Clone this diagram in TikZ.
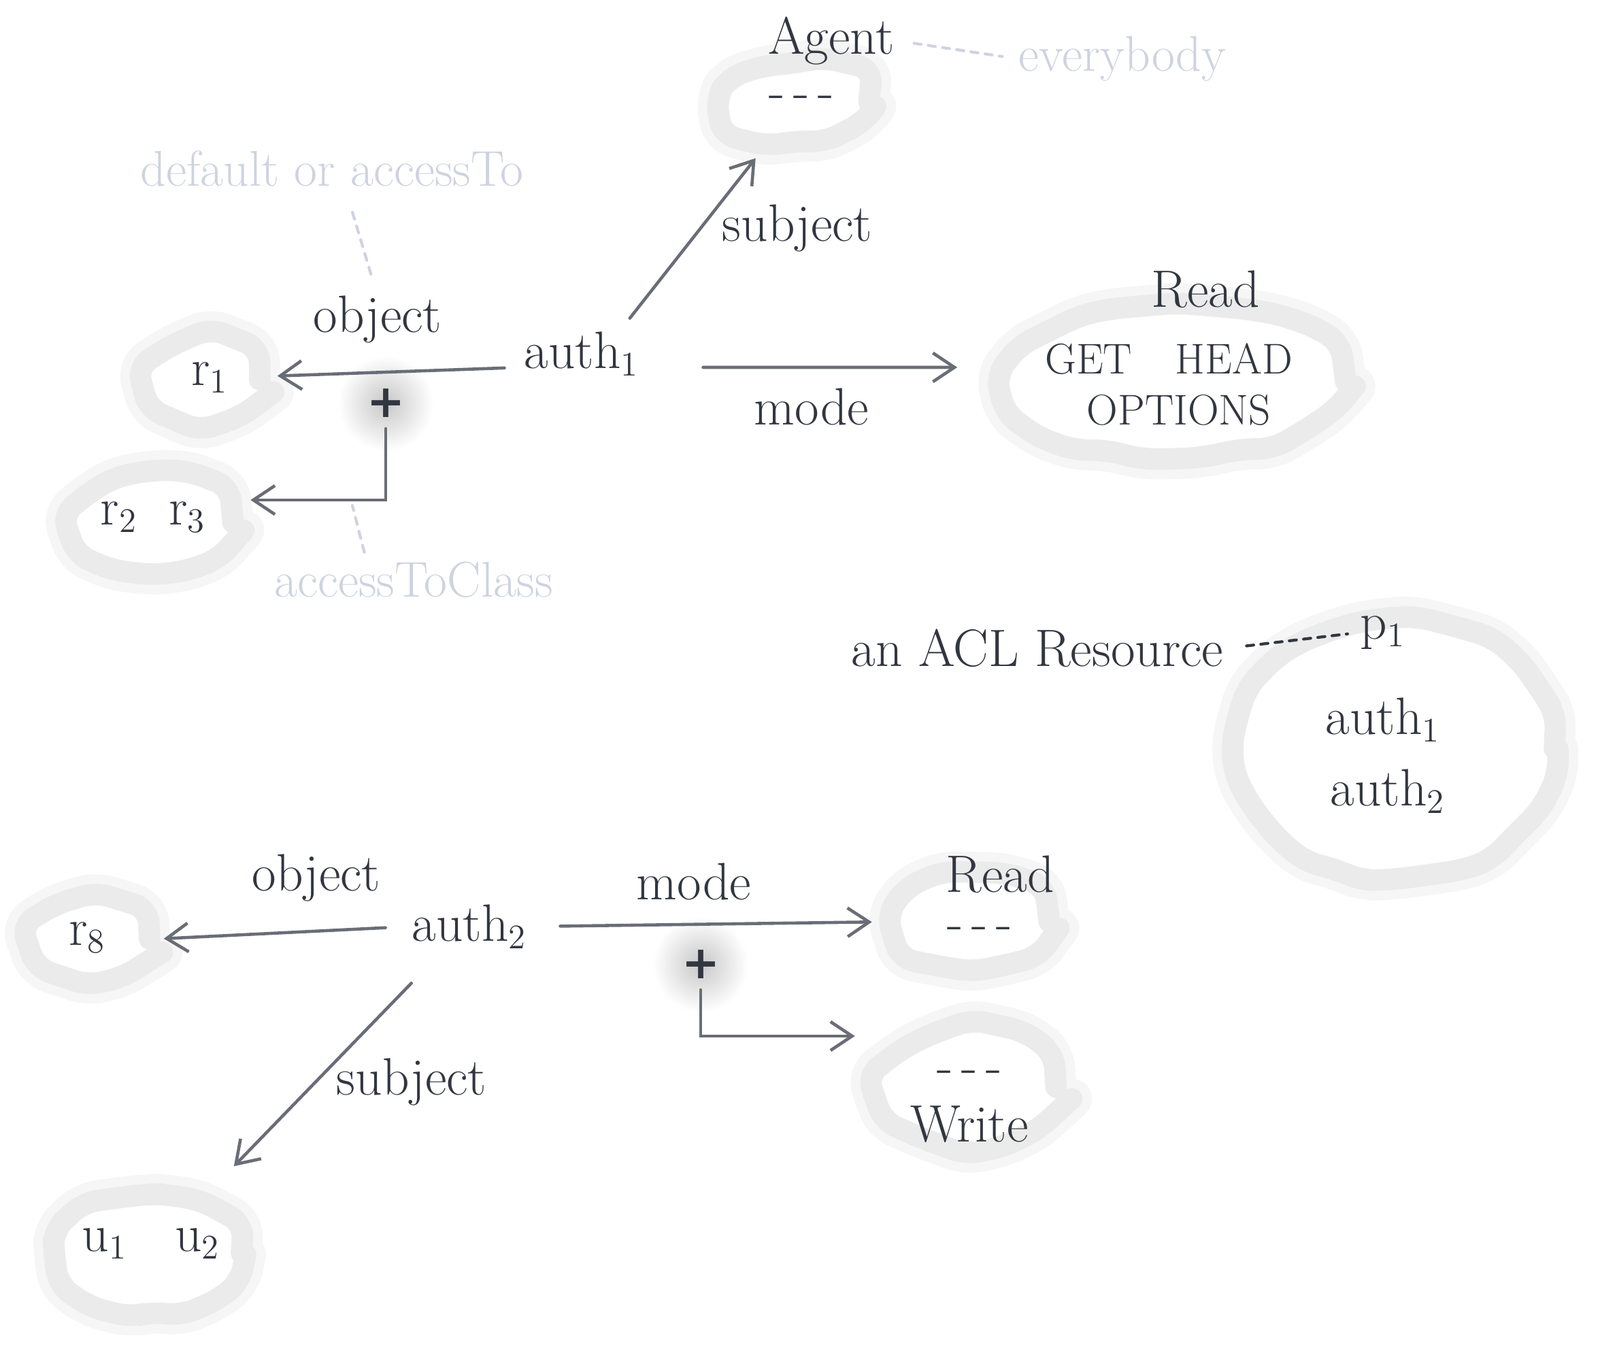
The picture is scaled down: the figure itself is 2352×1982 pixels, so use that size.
\documentclass[tikz,border=0pt]{standalone}
\usepackage{fontspec}
\newfontfamily\plusfont{DejaVu Sans}
\usetikzlibrary{arrows.meta,decorations.pathmorphing,shapes.geometric}
\definecolor{pencil}{RGB}{50,54,64}
\definecolor{lead}{RGB}{105,109,118}
\definecolor{faint}{RGB}{206,211,224}
\begin{document}
\begin{tikzpicture}[x=0.01cm, y=-0.01cm, line cap=round]
			\tikzstyle{blob}  = [ellipse, inner sep=0pt, draw=black!8, line width=9pt, fill=white, rounded corners=6pt,
			                     decorate, decoration={random steps, segment length=14pt, amplitude=2pt},
			                     preaction={draw=black!3.5, line width=17pt}]
			\tikzstyle{word}  = [inner sep=1pt, text=pencil, font=\fontsize{22}{26}\selectfont]
			\tikzstyle{small} = [inner sep=1pt, text=pencil, font=\fontsize{18}{22}\selectfont]
			\tikzstyle{note}  = [inner sep=1pt, text=faint, font=\fontsize{21}{25}\selectfont]
			\tikzstyle{arr}   = [draw=lead, line width=1.3pt, -{Straight Barb[length=9pt, width=12pt]}]
			\tikzstyle{hint}  = [draw=faint, line width=1.2pt, dashed]
			\tikzstyle{plus}  = [circle, minimum size=1.4cm, inner sep=0pt, inner color=black!22, outer color=white,
			                     text=pencil, font=\fontsize{19}{22}\plusfont\bfseries]

			\useasboundingbox (0,0) rectangle (2352,1982);

			% the clouds
			\foreach \name/\x/\y/\w/\h in {agentblob/1170/150/215/110, readblob/1728/560/500/225,
			        r1blob/302/558/160/115, r23blob/225/768/235/140, pblob/2050/1100/470/380,
			        r8blob/135/1380/170/105, read2blob/1430/1355/225/135, writeblob/1425/1598/255/170,
			        ublob/220/1842/270/170}
				\node[blob, minimum width=\w*0.01cm, minimum height=\h*0.01cm] (\name) at (\x, \y) {};

			% words
			\foreach \name/\x/\y/\txt in {agent/1222/60/Agent, agentdots/1178/150/{-\,-\,-},
			        read/1772/425/Read, auth1/855/520/{auth$_1$}, r1/308/555/{r$_1$}, r23/225/760/{r$_2$\ \ r$_3$},
			        acl/1525/953/{an ACL Resource}, pone/2033/930/{p$_1$}, pauth1/2033/1058/{auth$_1$},
			        pauth2/2040/1163/{auth$_2$}, auth2/690/1362/{auth$_2$}, r8/128/1378/{r$_8$},
			        read2/1470/1285/Read, read2dots/1440/1372/{-\,-\,-}, writedots/1425/1583/{-\,-\,-},
			        write/1425/1653/Write, u12/222/1828/{u$_1$\ \ \ u$_2$}}
				\node[word] (\name) at (\x, \y) {\txt};

			\node[small] (gethead) at (1718,528) {GET\quad HEAD};
			\node[small] (options) at (1733,603) {OPTIONS};

			% edge labels
			\foreach \name/\x/\y/\txt in {subj1/1172/336/subject, obj1/555/470/object, mode1/1193/598/mode,
			        obj2/465/1290/object, mode2/1020/1296/mode, subj2/605/1590/subject}
				\node[word] (\name) at (\x, \y) {\txt};

			% faint remarks
			\node[note] (everybody) at (1650,86) {everybody};
			\node[note] (default) at (488,248) {default or accessTo};
			\node[note] (toclass) at (608,852) {accessToClass};
			\coordinate (objtip) at (548,412);
			\coordinate (classtip) at (518,743);

			% the two plus points
			\node[plus] (plusA) at (567,593) {+};
			\node[plus] (plusB) at (1030,1418) {+};

			% first authorization
			\draw[arr, shorten <=0.2cm, shorten >=0.15cm] ([xshift=-0.3cm]auth1.north east) -- ([xshift=-0.5cm]agentblob.south);
			\draw[arr, shorten <=0.9cm, shorten >=0.55cm] ([yshift=-0.2cm]auth1.east) -- ([yshift=0.2cm]readblob.west);
			\draw[arr, shorten <=0.25cm, shorten >=0.1cm] ([yshift=-0.2cm]auth1.west) -- ([yshift=0.05cm]r1blob.east);
			\draw[arr, shorten <=0.37cm, shorten >=0.1cm] (plusA.center) |- ([yshift=0.33cm]r23blob.east);

			% second authorization
			\draw[arr, shorten <=0.35cm, shorten >=0.05cm] (auth2.west) -- (r8blob.east);
			\draw[arr, shorten <=0.45cm, shorten >=0.2cm] (auth2.east) -- (read2blob.west);
			\draw[arr, shorten <=0.37cm, shorten >=0.25cm] (plusB.center) |- ([yshift=0.75cm]writeblob.west);
			\draw[arr, shorten <=0.65cm, shorten >=0.6cm] ([xshift=-0.4cm]auth2.south) -- (ublob);

			% dotted remarks
			\draw[hint, shorten <=0.25cm, shorten >=0.2cm] (agent.east) -- (everybody.west);
			\draw[hint, shorten <=0.35cm] ([xshift=0.2cm]default.south) -- (objtip);
			\draw[hint, shorten <=0.1cm] ([xshift=-0.7cm]toclass.north) -- (classtip);
			\draw[draw=pencil, line width=1.2pt, dashed, shorten <=0.3cm, shorten >=0.15cm] (acl.east) -- (pone.west);

		\end{tikzpicture}
\end{document}
